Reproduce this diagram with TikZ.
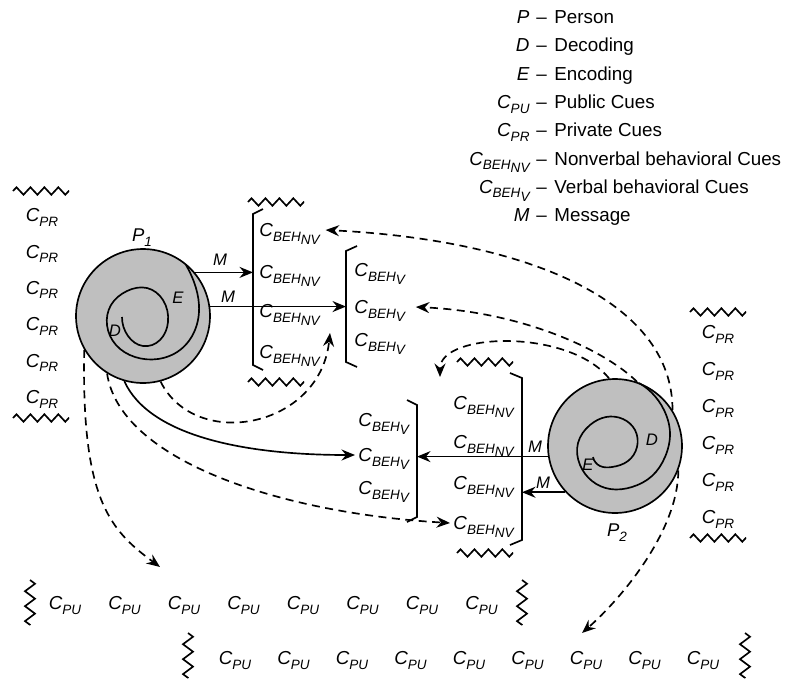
\documentclass[tikz,border=0pt]{standalone}
\usepackage{fontspec}
\setmainfont{Liberation Sans}
\usetikzlibrary{arrows.meta,decorations.pathmorphing,hobby}

\newcommand{\subt}[1]{\raisebox{-0.45ex}{\fontsize{7.7}{8}\selectfont #1}}
\newcommand{\cue}[1]{\textit{C\subt{#1}}}
\newcommand{\cbeh}[1]{\textit{C\subt{BEH\subt{#1}}}}

\begin{document}
\begin{tikzpicture}[x=0.02cm,y=-0.02cm,>={Stealth[length=2.7mm,width=2.2mm,inset=0.9mm]},line width=0.95pt,
  txt/.style={inner sep=1.5pt,text height=11.6pt,text depth=4pt,font=\fontsize{10.7}{12}\selectfont},
  lab/.style={inner sep=1pt,font=\fontsize{9.5}{10}\selectfont\itshape},
  person/.style={circle,draw,fill=black!25,minimum size=2.68cm,inner sep=0pt},
  cuearrow/.style={dash pattern=on 1.6mm off 1.1mm},
  hwave/.style={decorate,decoration={zigzag,segment length=2.79mm,amplitude=0.75mm}},
  vwave/.style={decorate,decoration={zigzag,segment length=2.99mm,amplitude=1mm}}]

\useasboundingbox (0,0) rectangle (785,687);

%Legende
\foreach \sym/\txt [count=\i from 0] in {{\textit{P}}/Person,{\textit{D}}/Decoding,{\textit{E}}/Encoding,
  {\cue{PU}}/Public Cues,{\cue{PR}}/Private Cues,{\cbeh{NV}}/Nonverbal behavioral Cues,
  {\cbeh{V}}/Verbal behavioral Cues,{\textit{M}}/Message}{
  \node[txt,anchor=east] (k\i) at (533,{17+28.3*\i}) {\sym};
  \node[txt,anchor=west] (d\i) at (k\i.east) {–\hspace{0.4em}\txt};
}

%private cues
\draw[hwave] (13,191) -- (69,191);
\foreach \i in {0,...,5} \node[txt] (lpr\i) at (42,{215+36.4*\i}) {\cue{PR}};
\draw[hwave] (13,418) -- (69,418);
\draw[hwave] (690,312) -- (746,312);
\foreach \i in {0,...,5} \node[txt] (rpr\i) at (718,{332+37*\i}) {\cue{PR}};
\draw[hwave] (690,538) -- (746,538);

%Personen
\node[person] (p1) at (143,316) {};
\node[txt,font=\fontsize{10.5}{12}\selectfont\itshape] (p1l) at (142,235) {P\subt{1}};
\draw (122,317) to [curve through = {(128,336) (143,346) (160,340) (168,322) (163,300) (147,288) (127,291) (111,305) (107,325) (116,345) (135,357) (158,359) (180,350) (195,330) (199,305) (194,282)}] (186,265);
\node[lab] (e1) at (178,298) {E};
\node[lab] (d1) at (115,331) {D};

\node[person] (p2) at (615,446) {};
\node[txt,font=\fontsize{10.5}{12}\selectfont\itshape] (p2l) at (617,530) {P\subt{2}};
\draw (593,457) to [curve through = {(600,466) (612,467) (628,461) (637,447) (635,430) (623,419) (606,417) (590,425) (578,443) (580,465) (592,481) (610,489) (632,487) (652,476) (665,457) (670,433) (664,410) (652,393)}] (639,383);
\node[lab] (d2) at (652,440) {D};
\node[lab] (e2) at (588,465) {E};

%behavioral cues
\draw[hwave] (248,202) -- (304,202);
\draw (263,209) -- (253,214) coordinate (unvb) -- (253,365) -- (263,370);
\foreach \y [count=\i] in {230,272,311,352} \node[txt,anchor=west] (unv\i) at (256,\y) {\cbeh{NV}};
\draw[hwave] (248,382) -- (304,382);

\draw (357,246) -- (346,251) coordinate (uvb) -- (346,362) -- (357,367);
\foreach \y [count=\i] in {270,307,340} \node[txt,anchor=west] (uv\i) at (351,\y) {\cbeh{V}};

\draw (407,400) -- (417,405) coordinate (lvb) -- (417,517) -- (407,522);
\foreach \y [count=\i] in {420,455,488} \node[txt,anchor=west] (lv\i) at (355,\y) {\cbeh{V}};

\draw[hwave] (457,362) -- (513,362);
\draw (510,373) -- (522,378) coordinate (lnvb) -- (522,540) -- (510,545);
\foreach \y [count=\i] in {403,442,483,523} \node[txt,anchor=west] (lnv\i) at (450,\y) {\cbeh{NV}};
\draw[hwave] (457,553) -- (513,553);

%public cues
\draw[vwave] (30,580) -- (30,625);
\foreach \i in {0,...,7} \node[txt] (pa\i) at ({65+59.5*\i},603) {\cue{PU}};
\draw[vwave] (522,580) -- (522,625);
\draw[vwave] (188,633) -- (188,678);
\foreach \i in {0,...,8} \node[txt] (pb\i) at ({235+58.5*\i},658) {\cue{PU}};
\draw[vwave] (745,633) -- (745,678);

%Messages
\draw[->] (p1.40) -- (p1.40 -| unvb);
\node[lab] (m1) at (220,260) {M};
\draw[->] (p1.8) -- (p1.8 -| uvb);
\node[lab] (m2) at (228,297) {M};
\draw[->] (p2.189) -- (p2.189 -| lvb);
\node[lab] (m3) at (535,447) {M};
\draw[->] (p2.223) -- (p2.223 -| lnvb);
\node[lab] (m4) at (543,483) {M};

%Wahrnehmung
\coordinate (t1) at (160,567);
\coordinate (t2) at (582,633);
\coordinate (t3) at (440,377);
\coordinate (t4) at (330,333);
\draw[->] (p1.-106) .. controls +(25,55) and +(-110,0) .. (lv2.west);
\draw[->,cuearrow] (p1.210) .. controls +(-3,150) and +(-50,-37) .. (t1);
\draw[->,cuearrow] (p1.-122) .. controls +(13,87) and +(-170,-10) .. (lnv4.west);
\draw[->,cuearrow] (p1.-75) .. controls +(35,70) and +(-10,95) .. (t4);
\draw[->,cuearrow] (p2.32) .. controls +(0,-110) and +(200,10) .. ([xshift=0.5mm]unv1.east);
\draw[->,cuearrow] (p2.71) .. controls +(-30,-30) and +(110,5) .. ([xshift=1.5mm]uv2.east);
\draw[->,cuearrow] (p2.95) .. controls +(-40,-50) and +(0,-45) .. (t3);
\draw[->,cuearrow] (p2.-21) .. controls +(0,60) and +(40,-35) .. (t2);

\end{tikzpicture}
\end{document}
